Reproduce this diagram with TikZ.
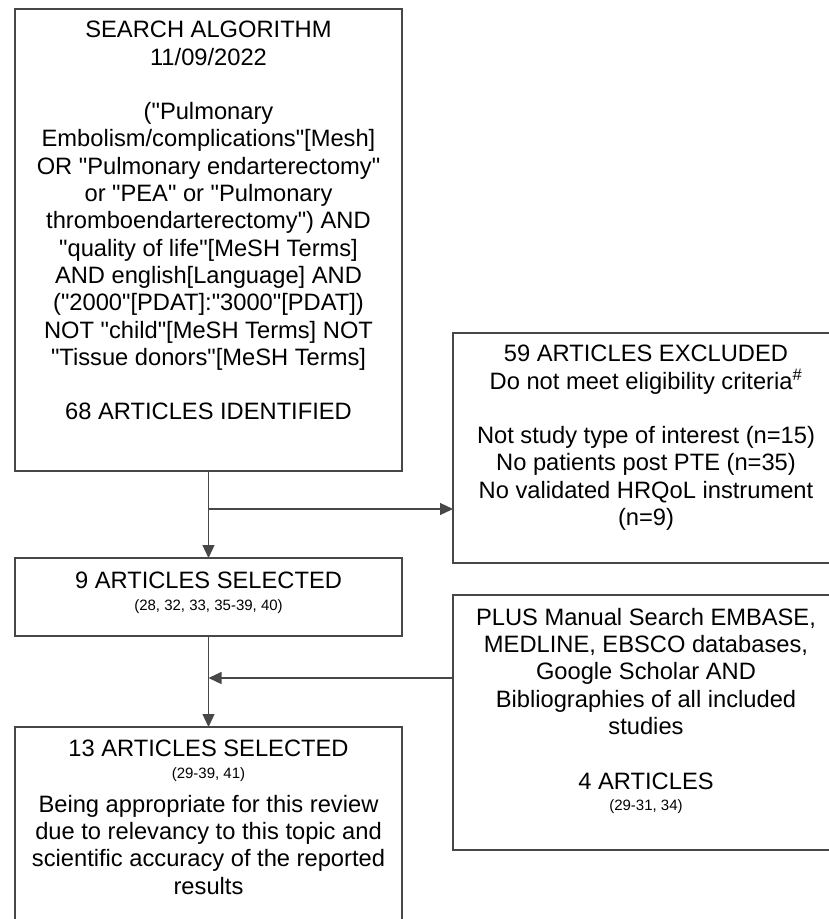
\documentclass[tikz,border=0pt]{standalone}
\usepackage{fontspec}
\setmainfont{Liberation Sans}
\newfontfamily\arialx{Liberation Sans}
\usetikzlibrary{arrows.meta}
\newcommand{\dq}{\char34\relax}
\tikzset{
  boxrect/.style={draw=black!72, line width=1.3pt, rectangle, inner sep=0pt, outer sep=0pt},
  bigtxt/.style={font=\arialx\fontsize{23.7}{27.3}\selectfont, align=center, inner sep=0pt, text=black},
  smalltxt/.style={font=\arialx\fontsize{15}{18}\selectfont, inner sep=0pt, text=black},
  arr/.style={draw=black!72, line width=1.2pt, -{Triangle[length=13pt,width=12pt]}},
}
\begin{document}
\begin{tikzpicture}[x=1pt,y=-1pt]
\useasboundingbox (0,0) rectangle (829,919);
\clip (0,0) rectangle (829,919);
\fill[white] (0,0) rectangle (829,919);

% boxes
\node[boxrect, minimum width=387pt, minimum height=462pt] (b1) at (208.5,240) {};
\node[boxrect, minimum width=386pt, minimum height=230pt] (exc) at (646,448) {};
\node[boxrect, minimum width=387pt, minimum height=78pt] (b2) at (208.5,597) {};
\node[boxrect, minimum width=386pt, minimum height=255pt] (man) at (646,722.5) {};
\node[boxrect, minimum width=387pt, minimum height=213pt] (b3) at (208.5,833.5) {};

% texts
\node[bigtxt, anchor=north] (t1) at (208.5,21) {SEARCH ALGORITHM\\
11/09/2022\\[27.3pt]
(\dq Pulmonary\\
Embolism/complications\dq[Mesh]\\
OR \dq Pulmonary endarterectomy\dq\\
or \dq PEA\dq{} or \dq Pulmonary\\
thromboendarterectomy\dq) AND\\
\dq quality of life\dq[MeSH Terms]\\
AND english[Language] AND\\
(\dq 2000\dq[PDAT]:\dq 3000\dq[PDAT])\\
NOT \dq child\dq[MeSH Terms] NOT\\
\dq Tissue donors\dq[MeSH Terms]\\[27.3pt]
68 ARTICLES IDENTIFIED};

\node[bigtxt, anchor=north] (texc) at (646,345) {59 ARTICLES EXCLUDED\\
Do not meet eligibility criteria\textsuperscript{\#}\\[27.3pt]
Not study type of interest (n=15)\\
No patients post PTE (n=35)\\
No validated HRQoL instrument\\
(n=9)};

\node[bigtxt, anchor=base] (tb2) at (208.5,588) {9 ARTICLES SELECTED};
\node[smalltxt, anchor=base] (rb2) at (208.5,610) {(28, 32, 33, 35-39, 40)};

\node[bigtxt, anchor=base] (tb3) at (208.5,756) {13 ARTICLES SELECTED};
\node[smalltxt, anchor=base] (rb3) at (208.5,778) {(29-39, 41)};
\node[bigtxt, anchor=north] (bb3) at (208.5,795) {Being appropriate for this review\\
due to relevancy to this topic and\\
scientific accuracy of the reported\\
results};

\node[bigtxt, anchor=north] (tman) at (646,608) {PLUS Manual Search EMBASE,\\
MEDLINE, EBSCO databases,\\
Google Scholar AND\\
Bibliographies of all included\\
studies};
\node[bigtxt, anchor=base] (aman) at (646,789) {4 ARTICLES};
\node[smalltxt, anchor=base] (rman) at (646,810) {(29-31, 34)};

% connectors
\coordinate (br) at (208.5,509);
\coordinate (mj) at (208.5,678);
\draw[arr] (b1.south) -- (b2.north);
\draw[arr] (br) -- (br -| exc.west);
\draw[arr] (b2.south) -- (b3.north);
\draw[arr] (mj -| man.west) -- (mj);
\end{tikzpicture}
\end{document}
